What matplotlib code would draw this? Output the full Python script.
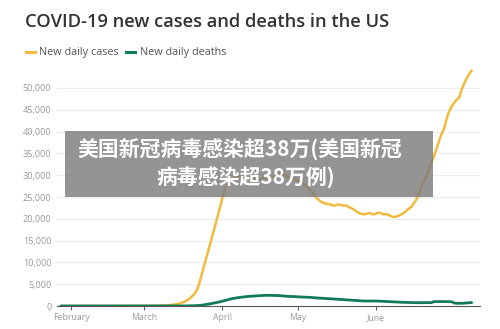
import numpy as np
import pandas as pd
import matplotlib
matplotlib.use("Agg")
import matplotlib.pyplot as plt
import matplotlib.dates as mdates
from matplotlib.patches import Rectangle

# Daily series (7-day averages), 28 Jan - 9 Jul 2020
start_date = "2020-01-28"

cases_jan = [0, 0, 0, 0]
cases_feb = [0, 0, 1, 1, 1, 1, 1, 1, 1, 1, 1, 1, 1, 1, 1, 1, 1, 1, 1, 1,
             2, 2, 3, 4, 5, 6, 8, 10, 12]
cases_mar = [15, 20, 25, 30, 40, 55, 70, 90, 110, 140,
             180, 240, 320, 420, 560, 750, 1000, 1300, 1700, 2200,
             2800, 3700, 5400, 7500, 9600, 11700, 13800, 15900, 18000, 20200,
             22400]
cases_apr = [24600, 26600, 28000, 28900, 29300, 29500, 29700, 29800, 29900, 29800,
             29500, 29200, 29000, 28900, 28900, 29000, 29300, 29500, 29600, 29500,
             29400, 29600, 30000, 30400, 30300, 30000, 29600, 29300, 29100, 29000]
cases_may = [28800, 28600, 28200, 27700, 27100, 26500, 25800, 25100, 24500, 24000,
             23700, 23500, 23400, 23300, 23000, 23100, 23300, 23200, 23000, 23100,
             22800, 22500, 22200, 21800, 21400, 21200, 21000, 21100, 21300, 21200,
             21000]
cases_jun = [21200, 21400, 21300, 21000, 21100, 20900, 20600, 20400, 20500, 20700,
             21000, 21300, 21800, 22300, 22700, 23500, 24400, 25700, 27300, 28600,
             29700, 31200, 32800, 34300, 36000, 37800, 39400, 40600, 42800, 44600]
cases_jul = [45700, 46600, 47300, 47800, 49600, 51000, 52200, 53200, 54000]

deaths_jan = [0, 0, 0, 0]
deaths_feb = [0] * 29
deaths_mar = [1, 1, 1, 2, 2, 2, 3, 3, 3, 4,
              5, 6, 8, 10, 13, 17, 22, 30, 40, 52,
              70, 95, 130, 190, 280, 380, 480, 580, 700, 820,
              950]
deaths_apr = [1100, 1250, 1400, 1550, 1700, 1800, 1900, 1980, 2050, 2120,
              2180, 2230, 2270, 2300, 2340, 2380, 2420, 2440, 2450, 2430,
              2420, 2410, 2400, 2350, 2300, 2250, 2220, 2200, 2180, 2150]
deaths_may = [2100, 2080, 2060, 2050, 2030, 1980, 1920, 1870, 1830, 1800,
              1760, 1720, 1690, 1660, 1620, 1580, 1540, 1500, 1460, 1420,
              1380, 1340, 1290, 1250, 1200, 1170, 1150, 1140, 1140, 1150,
              1150]
deaths_jun = [1140, 1120, 1090, 1060, 1030, 1000, 970, 940, 910, 880,
              860, 840, 820, 800, 780, 770, 760, 760, 750, 750,
              750, 760, 770, 1000, 1010, 1020, 1020, 1010, 1000, 990]
deaths_jul = [980, 700, 620, 610, 620, 650, 700, 760, 780]

cases = cases_jan + cases_feb + cases_mar + cases_apr + cases_may + cases_jun + cases_jul
deaths = deaths_jan + deaths_feb + deaths_mar + deaths_apr + deaths_may + deaths_jun + deaths_jul
dates = pd.date_range(start_date, periods=len(cases), freq="D")

y_ticks = [0, 5000, 10000, 15000, 20000, 25000, 30000, 35000, 40000, 45000, 50000]
month_ticks = ["2020-02-01", "2020-03-01", "2020-04-01", "2020-05-01", "2020-06-01"]
month_labels = ["February", "March", "April", "May", "June"]

title = "COVID-19 new cases and deaths in the US"
series_names = ["New daily cases", "New daily deaths"]
banner_lines = ["美国新冠病毒感染超38万(美国新冠", "病毒感染超38万例)"]

CASE_COLOR = "#f2b93f"
DEATH_COLOR = "#127a5c"
TEXT_DARK = "#333333"
TEXT_GREY = "#9a9a9a"

W, H = 500, 329
fig = plt.figure(figsize=(W / 100, H / 100), dpi=100)
fig.patch.set_facecolor("white")

# axes: left 57px, right 480px, zero line at 306px, 50,000 line at 88px
y_top = 58000
px_per_unit = (306 - 88) / 50000
ax_top_px = 306 - y_top * px_per_unit
ax = fig.add_axes([57 / W, 1 - 306 / H, (480 - 57) / W, (306 - ax_top_px) / H])

x0 = mdates.date2num(pd.Timestamp("2020-02-01")) - (71 - 57) / 2.52
x1 = mdates.date2num(pd.Timestamp("2020-02-01")) + (480 - 71) / 2.52
ax.set_xlim(x0, x1)
ax.set_ylim(0, y_top)

for t in y_ticks[1:]:
    ax.axhline(t, color="#ececec", lw=0.8, zorder=0)

ax.plot(dates, cases, color=CASE_COLOR, lw=1.8, solid_capstyle="round", zorder=3)
ax.plot(dates, deaths, color=DEATH_COLOR, lw=2.0, solid_capstyle="round", zorder=4)

for s in ["top", "right", "left"]:
    ax.spines[s].set_visible(False)
ax.spines["bottom"].set_color("#555555")
ax.spines["bottom"].set_linewidth(0.8)

ax.set_yticks(y_ticks)
ax.set_yticklabels([f"{v:,}" for v in y_ticks])
ax.tick_params(axis="y", length=0, pad=4, labelsize=6.6, labelcolor=TEXT_GREY)
ax.set_xticks([mdates.date2num(pd.Timestamp(d)) for d in month_ticks])
ax.set_xticklabels(month_labels)
ax.tick_params(axis="x", length=3, width=0.7, color="#555555", pad=2,
               labelsize=6.3, labelcolor=TEXT_GREY)
for lab in ax.get_xticklabels() + ax.get_yticklabels():
    lab.set_family("Open Sans")

# title and legend
fig.text(25 / W, 1 - 22 / H, title, fontsize=13.2, color=TEXT_DARK,
         family="Open Sans", fontweight="semibold", va="center", ha="left")
legend_y = 1 - 52 / H
fig.add_artist(plt.Line2D([26 / W, 35 / W], [legend_y, legend_y],
                          color=CASE_COLOR, lw=2.2, transform=fig.transFigure))
fig.text(39 / W, legend_y, series_names[0], fontsize=7.8, color="#555555",
         family="Open Sans", va="center", ha="left")
fig.add_artist(plt.Line2D([126 / W, 135 / W], [legend_y, legend_y],
                          color=DEATH_COLOR, lw=2.2, transform=fig.transFigure))
fig.text(140 / W, legend_y, series_names[1], fontsize=7.8, color="#555555",
         family="Open Sans", va="center", ha="left")

# caption banner over the chart
fig.add_artist(Rectangle((65 / W, 1 - 197 / H), (433 - 65) / W, (197 - 131) / H,
                         transform=fig.transFigure, facecolor="#7a7a7a",
                         alpha=0.8, edgecolor="none", zorder=10))
cjk = ["Noto Sans CJK SC", "DejaVu Sans"]
fig.text(240 / W, 1 - 149 / H, banner_lines[0], fontsize=15, color="white",
         family=cjk, fontweight="bold", ha="center", va="center", zorder=11)
fig.text(246 / W, 1 - 178 / H, banner_lines[1], fontsize=15, color="white",
         family=cjk, fontweight="bold", ha="center", va="center", zorder=11)

fig.savefig("out.png", dpi=100, facecolor="white")
